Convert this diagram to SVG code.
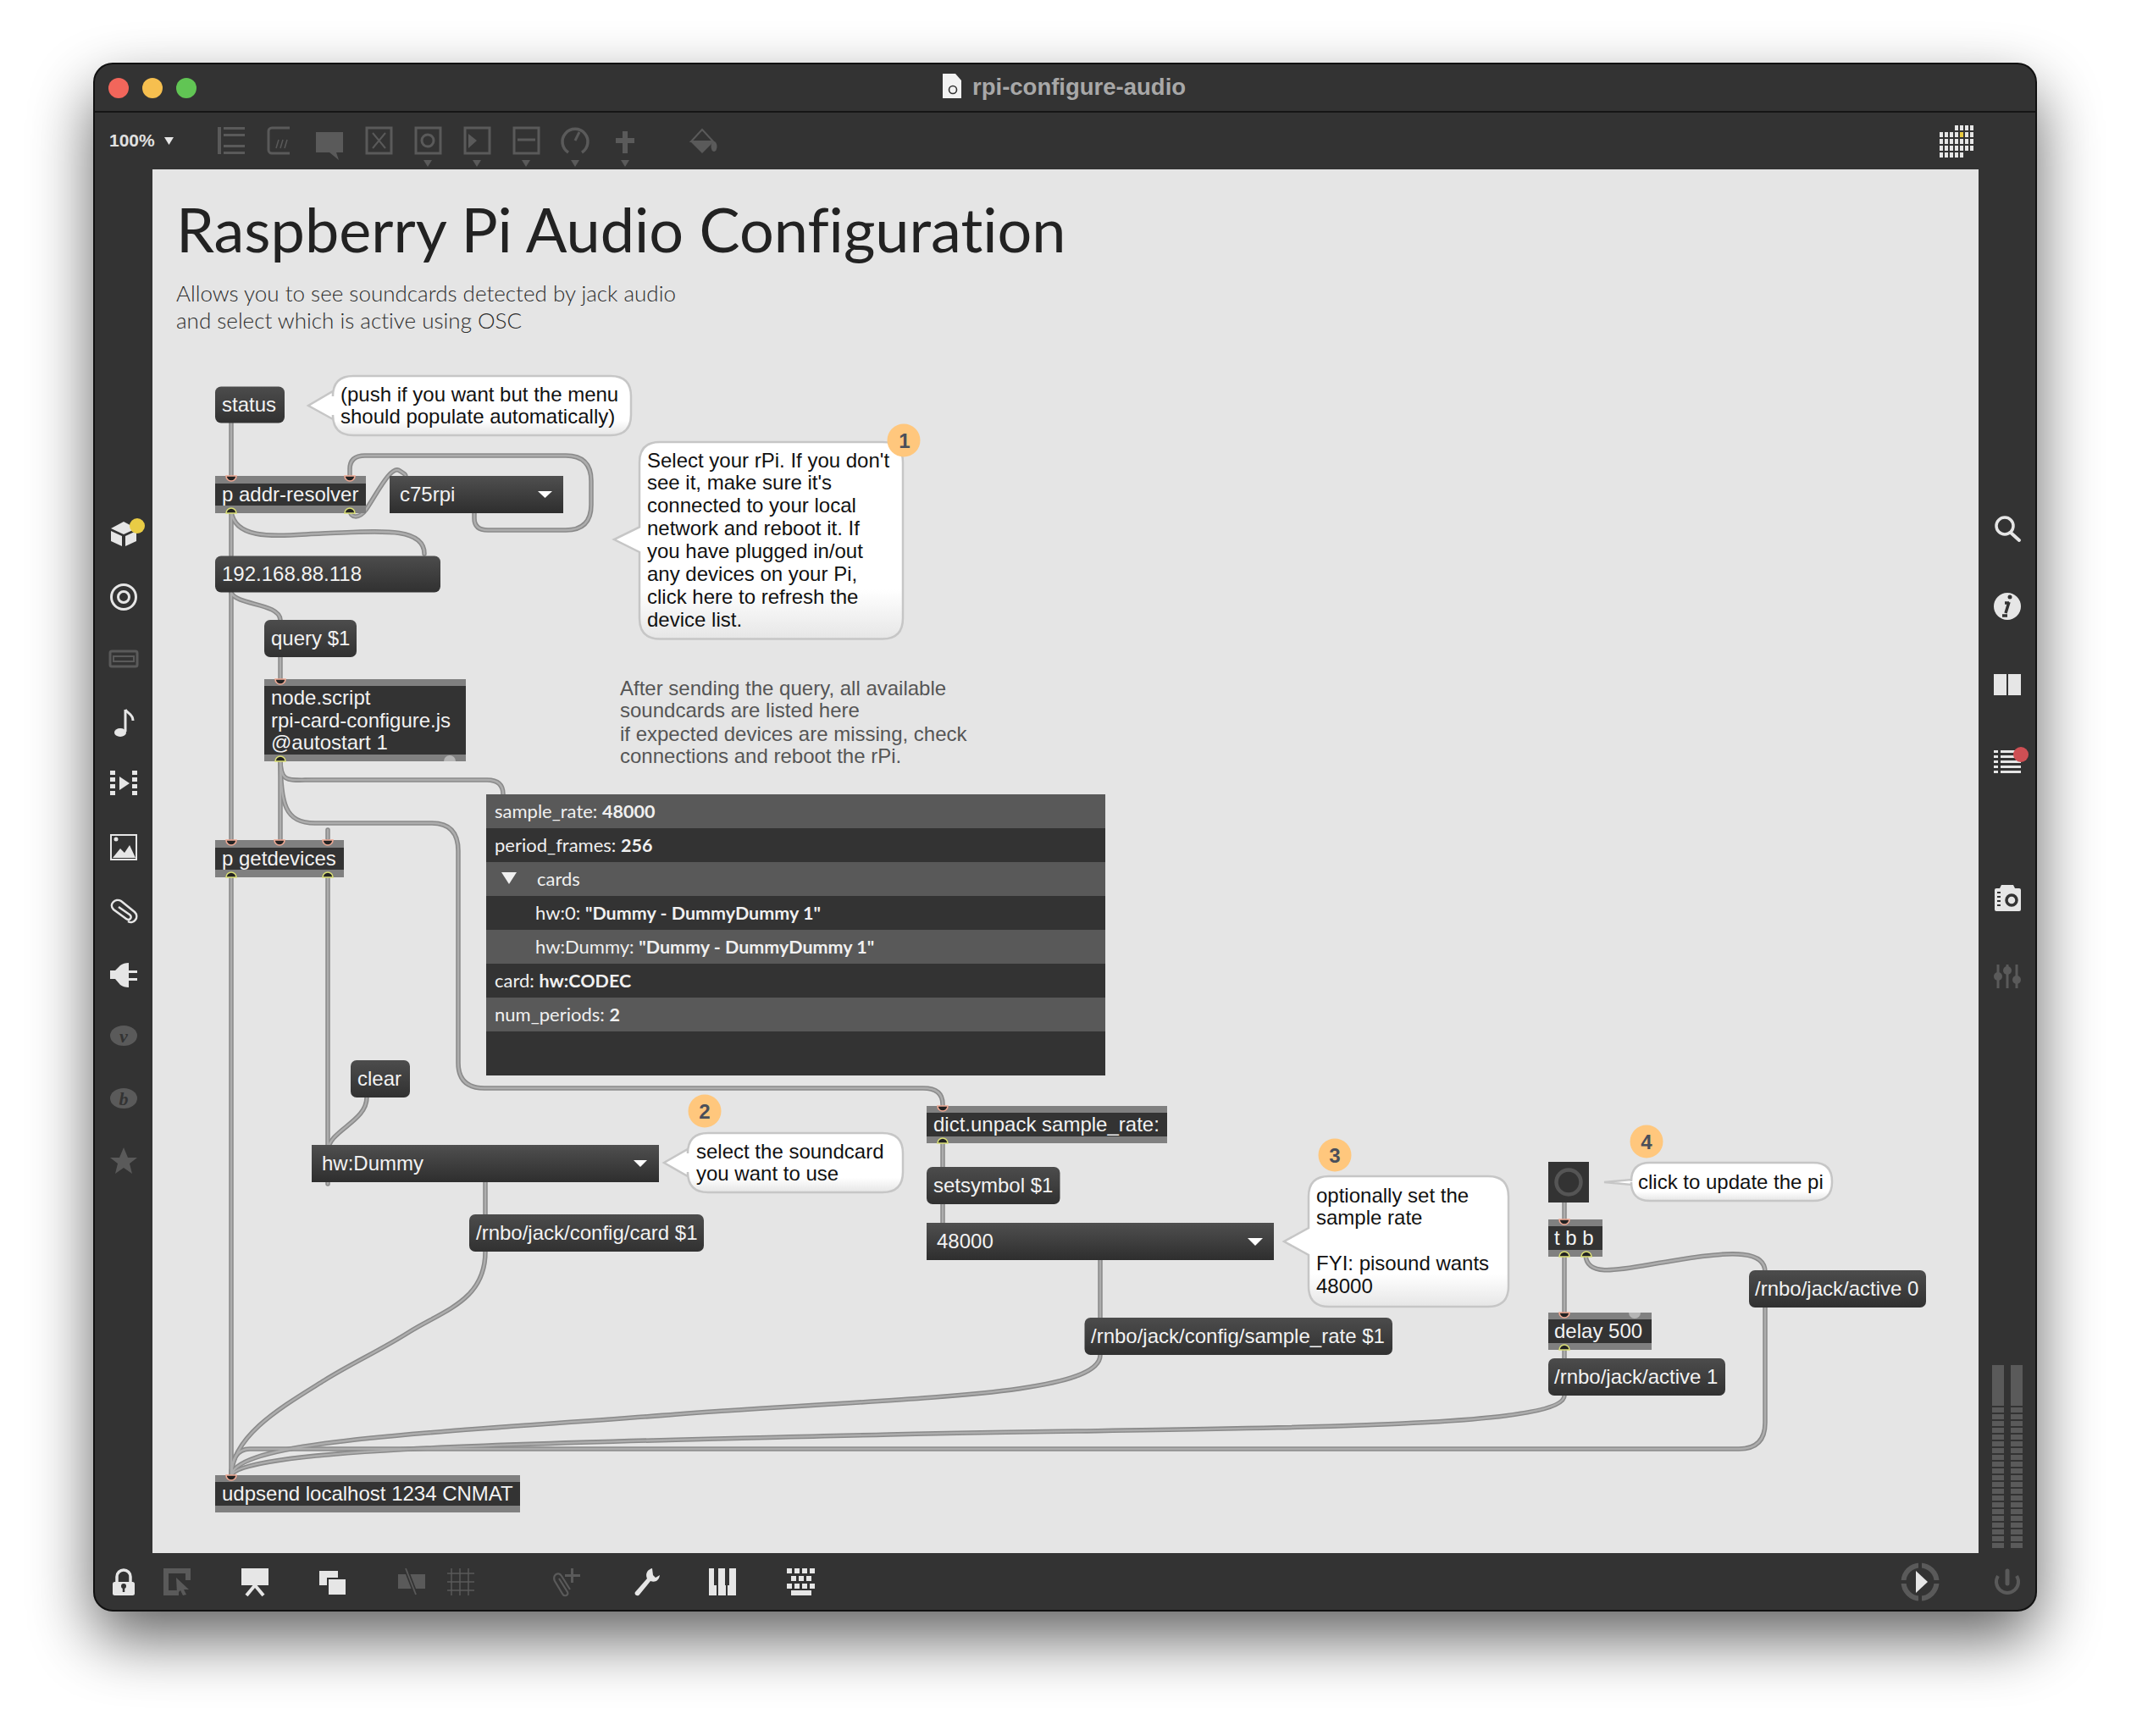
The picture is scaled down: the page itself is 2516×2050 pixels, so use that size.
<svg xmlns="http://www.w3.org/2000/svg" width="2516" height="2050" viewBox="0 0 2516 2050">
<style>
text{font-family:"Liberation Sans",Arial,sans-serif;font-size:24px}
.t{fill:#f2f2f2}
.b{fill:#111}
.obj{fill:#333}
.bar{fill:#808080}
.msg{fill:url(#mg)}
.menu{fill:url(#ug)}
.bub{fill:url(#bg);stroke:#c6c6c6;stroke-width:2.5}
.num{fill:#ffc77d}
.numt{font-weight:bold;fill:#4a4f5a;text-anchor:middle}
.dt{font-family:Lato,"Liberation Sans",sans-serif;font-size:22px;fill:#f0f0f0}
.dt tspan{font-weight:bold;font-size:21.500px}
.rd{fill:#595959}.rl{fill:#333}
.ic{fill:#e6e6e6}.icd{fill:#5a5a5a}
.ics{fill:none;stroke:#e6e6e6}.icds{fill:none;stroke:#5a5a5a}
.wo{fill:none;stroke:#8a8a8a;stroke-width:5.500;stroke-linecap:round}
.wi{fill:none;stroke:#adadad;stroke-width:2.400;stroke-linecap:round}
.lato{font-family:Lato,"Liberation Sans",sans-serif;font-variant-ligatures:none}
</style>
<defs>
<linearGradient id="mg" x1="0" y1="0" x2="0" y2="1"><stop offset="0" stop-color="#4c4c4c"/><stop offset="1" stop-color="#313131"/></linearGradient>
<linearGradient id="ug" x1="0" y1="0" x2="0" y2="1"><stop offset="0" stop-color="#4f4f4f"/><stop offset="1" stop-color="#2e2e2e"/></linearGradient>
<linearGradient id="bg" x1="0" y1="0" x2="0" y2="1"><stop offset="0" stop-color="#fff"/><stop offset=".75" stop-color="#fff"/><stop offset="1" stop-color="#e6e6e6"/></linearGradient>
<filter id="sh" x="-20%" y="-20%" width="140%" height="140%"><feGaussianBlur stdDeviation="38"/></filter>
<path id="in" d="M-6 0A6 6 0 0 0 6 0Z" fill="#222" stroke="#eea893" stroke-width="1.600"/>
<path id="out" d="M-6 0A6 6 0 0 1 6 0Z" fill="#222" stroke="#d9de74" stroke-width="1.600"/>
</defs>
<rect width="2516" height="2050" fill="#fff"/>
<rect x="111" y="108" width="2293" height="1826" rx="24" fill="#000" opacity=".62" filter="url(#sh)"/>
<g id="window">
<rect x="111" y="75" width="2293" height="1827" rx="22" fill="#333" stroke="#111" stroke-width="2"/>
<line x1="112" y1="132" x2="2403" y2="132" stroke="#161616" stroke-width="2"/>
<circle cx="140" cy="104" r="12" fill="#f2665b"/><circle cx="180" cy="104" r="12" fill="#f6bf4f"/><circle cx="220" cy="104" r="12" fill="#61c554"/>
<path d="M1113 87h15l7 8v21h-22z" fill="#f2f2f2"/><circle cx="1125" cy="106" r="4.500" fill="none" stroke="#333" stroke-width="1.600"/>
<text x="1148" y="112" font-weight="bold" fill="#a8a8a8" style="font-size:27.500px">rpi-configure-audio</text>
<text x="129" y="173" font-weight="bold" fill="#e0e0e0" style="font-size:21px">100%</text>
<path d="M194 162h11l-5.500 9z" class="ic"/>
</g>
<g id="toolbar">
<path d="M257 150h4v32h-4zM264 150h25v3h-25zM264 158h25v3h-25zM264 171h25v3h-25zM264 179h25v3h-25z" class="icd"/>
<path d="M342 151h-21a4 4 0 0 0-4 4v22a4 4 0 0 0 4 4h21" class="icds" stroke-width="3"/><path d="M326 175l3-10M331 175l3-10M336 175l3-10" class="icds" stroke-width="1.500"/>
<path d="M373 156h32v24h-8l3 9-11-9h-16z" class="icd"/>
<rect x="433" y="151" width="29" height="30" class="icds" stroke-width="3"/><path d="M440 157l15 18M455 157l-15 18" class="icds" stroke-width="2"/>
<rect x="491" y="151" width="29" height="30" class="icds" stroke-width="3"/><circle cx="505" cy="166" r="7" class="icds" stroke-width="3"/>
<rect x="549" y="151" width="29" height="30" class="icds" stroke-width="3"/><path d="M553 158l10 8-10 9z" class="icd"/>
<rect x="607" y="151" width="29" height="30" class="icds" stroke-width="3"/><path d="M611 165h21" class="icds" stroke-width="3"/>
<path d="M671 180a15 15 0 1 1 16 0" class="icds" stroke-width="3.500"/><path d="M679 166l5-10" class="icds" stroke-width="3"/>
<path d="M735 155h6v8h8v6h-8v12h-6v-12h-8v-6h8z" class="icd"/>
<path d="M829 153l-13 14h26z" class="icds" stroke-width="2"/><path d="M815 167h28l-14 14z" class="icd"/><ellipse cx="843" cy="173" rx="3.500" ry="6" class="icd"/>
<path d="M500 189h10l-5 8zM558 189h10l-5 8zM616 189h10l-5 8zM674 189h10l-5 8zM733 189h10l-5 8z" class="icd"/>
<g class="ic">
<path d="M2308 148h4v6h-4zM2314 148h4v6h-4zM2320 148h4v6h-4zM2326 148h4v6h-4z"/>
<path d="M2290 156h4v6h-4zM2296 156h4v6h-4zM2302 156h4v6h-4zM2308 156h4v6h-4zM2320 156h4v6h-4zM2326 156h4v6h-4z"/>
<path d="M2290 164h4v6h-4zM2296 164h4v6h-4zM2302 164h4v6h-4zM2308 164h4v6h-4zM2314 164h4v6h-4zM2320 164h4v6h-4zM2326 164h4v6h-4z"/>
<path d="M2290 172h4v6h-4zM2296 172h4v6h-4zM2302 172h4v6h-4zM2308 172h4v6h-4zM2314 172h4v6h-4zM2320 172h4v6h-4zM2326 172h4v6h-4z"/>
<path d="M2290 180h4v6h-4zM2296 180h4v6h-4zM2302 180h4v6h-4zM2308 180h4v6h-4zM2314 180h4v6h-4z"/>
</g><rect x="2314" y="156" width="4" height="6" fill="#e8c93f"/>
</g>
<g id="left-sidebar">
<path d="M131 624l15-8 15 8-15 7zM131 627l13 6v12l-13-6zM148 633l13-6v12l-13 6z" class="ic"/><ellipse cx="162" cy="621" rx="9" ry="9" fill="#e9cc45"/>
<ellipse cx="146" cy="705" rx="14.500" ry="14.500" class="ics" stroke-width="3"/><ellipse cx="146" cy="705" rx="6.500" ry="6.500" class="ics" stroke-width="3"/>
<path d="M132 769h28q2 0 2 2v14q0 2-2 2h-28q-2 0-2-2v-14q0-2 2-2z" class="icds" stroke-width="3"/><path d="M134 775h24v6h-24z" class="icds" stroke-width="2"/>
<path d="M148 838v26" class="ics" stroke-width="3"/><ellipse cx="142" cy="865" rx="7" ry="5" class="ic"/><path d="M148 838c3 5 9 5 9 13" class="ics" stroke-width="3"/>
<path d="M130 910h6v5h-6zM130 918h6v5h-6zM130 926h6v5h-6zM130 934h6v5h-6zM156 910h6v5h-6zM156 918h6v5h-6zM156 926h6v5h-6zM156 934h6v5h-6zM141 917l12 8-12 8z" class="ic"/>
<rect x="131" y="986" width="30" height="29" class="ics" stroke-width="2"/><path d="M133 1013l9-11 5 5 6-9 7 15z" class="ic"/><circle cx="137" cy="991" r="2.500" class="ic"/>
<path d="M140 1071L153 1080C157 1083 153 1088 149 1085L134 1074C128 1068 136 1060 143 1064L159 1077C165 1083 158 1092 151 1088" class="ics" stroke-width="2.500"/>
<path d="M130 1146h6l6-6q4-3 10-3v9h10v3h-10v6h10v3h-10v8q-6 0-10-3l-6-7h-6z" class="ic"/>
<ellipse cx="146" cy="1223" rx="16" ry="12" class="icd"/><text x="146" y="1231" text-anchor="middle" fill="#333" style="font-family:'Liberation Serif',serif;font-size:22px;font-weight:bold;font-style:italic">v</text>
<ellipse cx="146" cy="1297" rx="16" ry="12" class="icd"/><text x="146" y="1305" text-anchor="middle" fill="#333" style="font-family:'Liberation Serif',serif;font-size:22px;font-weight:bold;font-style:italic">b</text>
<path d="M146 1355l5 12h11l-9 7 3 12-10-7-10 7 3-12-9-7h11z" class="icd"/>
</g>
<g id="right-sidebar">
<circle cx="2367" cy="621" r="10" class="ics" stroke-width="3.500"/><path d="M2374 629l10 9" class="ics" stroke-width="4" stroke-linecap="round"/>
<ellipse cx="2370" cy="716" rx="16" ry="16" class="ic"/><path d="M2372 711l-4 13M2367 712h5M2364 727h6" stroke="#333" stroke-width="3.500" fill="none"/><circle cx="2373" cy="705" r="2.500" fill="#333"/>
<rect x="2354" y="796" width="15" height="25" class="ic"/><rect x="2371" y="796" width="15" height="25" class="ic"/>
<path d="M2354 886h5v3h-5zM2354 892h5v3h-5zM2354 898h5v3h-5zM2354 904h5v3h-5zM2354 910h5v3h-5zM2362 886h24v3h-24zM2362 892h24v3h-24zM2362 898h24v3h-24zM2362 904h24v3h-24zM2362 910h24v3h-24z" class="ic"/><circle cx="2386" cy="891" r="9" fill="#ce4f54"/>
<path d="M2357 1049h4l2-4h14l2 4h5q2 0 2 2v23q0 2-2 2h-27q-2 0-2-2v-23q0-2 2-2z" class="ic"/><circle cx="2375" cy="1063" r="6" fill="none" stroke="#333" stroke-width="3.500"/><path d="M2358 1054h4M2358 1059h4M2358 1064h4M2358 1069h4" stroke="#333" stroke-width="2"/>
<path d="M2359 1139v28M2370 1139v28M2381 1139v28" class="icds" stroke-width="3"/><circle cx="2359" cy="1153" r="5" class="icd"/><circle cx="2370" cy="1146" r="5" class="icd"/><circle cx="2381" cy="1157" r="5" class="icd"/>
</g>
<g id="bottom-bar">
<path d="M138 1868v-6a8 8 0 0 1 16 0v6" class="ics" stroke-width="3.500"/><rect x="133" y="1868" width="26" height="16" rx="2.500" class="ic"/><circle cx="146" cy="1873" r="3" fill="#333"/><path d="M146 1873v7" stroke="#333" stroke-width="2.500"/>
<path d="M193 1852h32v14h-6v-8h-20v20h12v6h-18z" class="icd"/><path d="M208 1863l15 14-6 0 3 6-4 1-3-6-4 4z" class="icd"/>
<rect x="285" y="1852" width="32" height="20" class="ic"/><path d="M301 1872l-10 12M301 1872l10 12" class="ics" stroke-width="4"/>
<rect x="377" y="1855" width="22" height="17" class="ic"/><rect x="387" y="1864" width="22" height="20" class="ic" stroke="#333" stroke-width="2"/>
<rect x="470" y="1859" width="32" height="17" class="icd"/><path d="M479 1852l12 31" stroke="#333" stroke-width="5"/><path d="M479 1852l12 31" stroke="#5a5a5a" stroke-width="1.800"/>
<path d="M533 1852v32M543 1852v32M553 1852v32M528 1858h32M528 1868h32M528 1878h32" class="icds" stroke-width="1.500"/>
<path d="M660 1864L670 1880C672 1884 666 1886 664 1882L655 1867C652 1860 659 1855 663 1861L673 1877" class="icds" stroke-width="2.200"/><path d="M674 1852h3v7h8v3h-8v7h-3v-7h-7v-3h7z" class="icd"/>
<path d="M770 1852c-7 2-8 8-6 12l-14 16c-2 3 3 6 5 3l13-16c5 2 10 0 11-7l-5 3-3-3z" class="ic"/>
<rect x="837" y="1852" width="9" height="32" class="ic"/><rect x="848" y="1852" width="9" height="32" class="ic"/><rect x="859" y="1852" width="10" height="32" class="ic"/><rect x="843" y="1852" width="5" height="20" fill="#333"/><rect x="856" y="1852" width="5" height="20" fill="#333"/>
<path d="M929 1852h6v6h-6zM938 1852h6v6h-6zM947 1852h6v6h-6zM956 1852h6v6h-6zM934 1861h6v6h-6zM943 1861h6v6h-6zM952 1861h6v6h-6zM929 1870h6v6h-6zM938 1870h6v6h-6zM947 1870h6v6h-6zM956 1870h6v6h-6zM934 1878h24v6h-24z" class="ic"/>
<circle cx="2267" cy="1868" r="19.500" class="icds" stroke-width="6"/><path d="M2265 1845h4v46h-4zM2244 1866h46v4h-46z" fill="#333"/><path d="M2262 1855l14 13-14 13z" class="ic"/>
<path d="M2359 1861a13 13 0 1 0 22 0" class="icds" stroke-width="4"/><path d="M2370 1855v15" class="icds" stroke-width="5" stroke-linecap="round"/>
<rect x="2352" y="1612" width="14" height="48" class="icd"/><rect x="2374" y="1612" width="14" height="48" class="icd"/>
<path d="M2352 1662h14v6h-14zM2352 1670h14v6h-14zM2352 1678h14v6h-14zM2352 1686h14v6h-14zM2352 1694h14v6h-14zM2352 1702h14v6h-14zM2352 1710h14v6h-14zM2352 1718h14v6h-14zM2352 1726h14v6h-14zM2352 1734h14v6h-14zM2352 1742h14v6h-14zM2352 1750h14v6h-14zM2352 1758h14v6h-14zM2352 1766h14v6h-14zM2352 1774h14v6h-14zM2352 1782h14v6h-14zM2352 1790h14v6h-14zM2352 1798h14v6h-14zM2352 1806h14v6h-14zM2352 1814h14v6h-14zM2352 1822h14v6h-14z" class="icd"/>
<path d="M2374 1662h14v6h-14zM2374 1670h14v6h-14zM2374 1678h14v6h-14zM2374 1686h14v6h-14zM2374 1694h14v6h-14zM2374 1702h14v6h-14zM2374 1710h14v6h-14zM2374 1718h14v6h-14zM2374 1726h14v6h-14zM2374 1734h14v6h-14zM2374 1742h14v6h-14zM2374 1750h14v6h-14zM2374 1758h14v6h-14zM2374 1766h14v6h-14zM2374 1774h14v6h-14zM2374 1782h14v6h-14zM2374 1790h14v6h-14zM2374 1798h14v6h-14zM2374 1806h14v6h-14zM2374 1814h14v6h-14zM2374 1822h14v6h-14z" class="icd"/>
</g>
<rect id="canvas" x="180" y="200" width="2156" height="1634" fill="#e5e5e5"/>
<g id="heading">
<text x="208" y="298" fill="#222" class="lato" style="font-size:72px">Raspberry Pi Audio Configuration</text>
<text x="208" y="356" fill="#2c2c2c" class="lato" style="font-size:26px;font-weight:300">Allows you to see soundcards detected by jack audio</text>
<text x="208" y="388" fill="#2c2c2c" class="lato" style="font-size:26px;font-weight:300">and select which is active using OSC</text>
</g>
<g id="connectors">
<g class="wo"><g id="wires">
<path d="M273 499V566"/>
<path d="M413 602C413 612 424 613 432 602C445 583 462 548 472 556C478 560 479 560 479 563"/>
<path d="M560 606V612Q560 626 576 626H668Q698 626 698 596V568Q698 538 668 538H431Q413 538 413 554V566"/>
<path d="M273 606V656"/>
<path d="M273 604C278 640 330 632 380 630C440 628 501 620 501 654"/>
<path d="M273 700V996"/>
<path d="M273 700C280 715 330 712 331 732"/>
<path d="M331 776V805"/>
<path d="M331 897V995"/>
<path d="M331 897C331 925 340 921 370 921H575Q594 921 594 938"/>
<path d="M331 897C332 950 336 972 372 972H510Q541 972 541 1005V1255Q541 1285 572 1285H1090Q1113 1285 1113 1304V1310"/>
<path d="M387 980V990"/>
<path d="M273 1034V1746"/>
<path d="M387 1034V1398"/>
<path d="M433 1296C433 1325 387 1335 387 1360"/>
<path d="M573 1396V1434"/>
<path d="M573 1478C573 1535 525 1547 483 1573C450 1594 415 1610 383 1630C335 1660 273 1695 273 1744"/>
<path d="M1299 1488V1556"/>
<path d="M1299 1600C1299 1650 1060 1650 800 1670C520 1692 273 1700 273 1744"/>
<path d="M1847 1648C1847 1690 1450 1685 1050 1694C700 1703 273 1708 273 1744"/>
<path d="M2084 1544V1680Q2084 1711 2053 1711H295Q273 1711 273 1744"/>
<path d="M1847 1420V1444"/>
<path d="M1847 1484V1552"/>
<path d="M1872 1482C1874 1512 1920 1497 1980 1488C2050 1476 2084 1478 2084 1502"/>
<path d="M1847 1594V1606"/>
<path d="M1113 1348V1378"/>
<path d="M1113 1422V1444"/>
</g></g>
<use href="#wires" class="wi"/>
</g>
<g id="n-status"><rect x="254" y="456.500" width="82" height="43" rx="7" class="msg"/><text x="262" y="486" class="t">status</text></g>
<g id="n-bubble-push"><path class="bub" d="M417 444H721Q745 444 745 468V490Q745 514 721 514H417Q393 514 393 490V495L364 479L393 462V468Q393 444 417 444Z"/><text x="402" y="474" class="b">(push if you want but the menu</text><text x="402" y="500" class="b">should populate automatically)</text></g>
<g id="n-addr-resolver"><rect x="254" y="562" width="178" height="44" class="bar"/><rect x="254" y="571" width="178" height="26" class="obj"/><text x="262" y="592" class="t">p addr-resolver</text><use href="#in" x="273" y="562"/><use href="#in" x="413" y="562"/><use href="#out" x="273" y="606"/><use href="#out" x="413" y="606"/></g>
<g id="n-c75rpi"><rect x="460" y="562" width="205" height="44" class="menu"/><text x="472" y="592" class="t">c75rpi</text><path d="M635 580h17l-8.500 8z" fill="#fff"/></g>
<g id="n-bubble-1"><path class="bub" d="M779 522H1042Q1066 522 1066 546V730Q1066 754.500 1042 754.500H779Q755 754.500 755 730V652L725 637L755 622.500V546Q755 522 779 522Z"/><text x="764" y="552" class="b">Select your rPi. If you don't</text><text x="764" y="578" class="b">see it, make sure it's</text><text x="764" y="605" class="b">connected to your local</text><text x="764" y="632" class="b">network and reboot it. If</text><text x="764" y="659" class="b">you have plugged in/out</text><text x="764" y="686" class="b">any devices on your Pi,</text><text x="764" y="713" class="b">click here to refresh the</text><text x="764" y="740" class="b">device list.</text></g>
<g id="n-num-1"><circle cx="1067" cy="520" r="19.500" class="num"/><text x="1068" y="529" class="numt">1</text></g>
<g id="n-ip"><rect x="254" y="656.500" width="266" height="43" rx="7" class="msg"/><text x="262" y="686" class="t">192.168.88.118</text></g>
<g id="n-query"><rect x="312" y="732" width="109" height="44" rx="7" class="msg"/><text x="320" y="762" class="t">query $1</text></g>
<g id="n-node-script"><rect x="312" y="802" width="238" height="97" class="bar"/><rect x="312" y="810" width="238" height="81" class="obj"/><text x="320" y="832" class="t">node.script</text><text x="320" y="859" class="t">rpi-card-configure.js</text><text x="320" y="885" class="t">@autostart 1</text><use href="#in" x="331" y="802"/><use href="#out" x="331" y="899"/><path d="M524 899A7 7 0 0 1 538 899Z" fill="#b5b5b5"/></g>
<g id="n-note-after"><text x="732" y="820.500" fill="#555">After sending the query, all available</text><text x="732" y="846.500" fill="#555">soundcards are listed here</text><text x="732" y="874.500" fill="#555">if expected devices are missing, check</text><text x="732" y="900.500" fill="#555">connections and reboot the rPi.</text></g>
<g id="n-dict-view"><rect x="574" y="938" width="731" height="332" class="rl"/><rect x="574" y="938" width="731" height="40" class="rd"/><rect x="574" y="1018" width="731" height="40" class="rd"/><rect x="574" y="1098" width="731" height="40" class="rd"/><rect x="574" y="1178" width="731" height="40" class="rd"/>
<text x="584" y="966" class="dt">sample_rate: <tspan>48000</tspan></text>
<text x="584" y="1006" class="dt">period_frames: <tspan>256</tspan></text>
<path d="M592 1030h18l-9 14z" fill="#f0f0f0"/><text x="634" y="1046" class="dt">cards</text>
<text x="632" y="1086" class="dt">hw:0: <tspan>"Dummy - DummyDummy 1"</tspan></text>
<text x="632" y="1126" class="dt">hw:Dummy: <tspan>"Dummy - DummyDummy 1"</tspan></text>
<text x="584" y="1166" class="dt">card: <tspan>hw:CODEC</tspan></text>
<text x="584" y="1206" class="dt">num_periods: <tspan>2</tspan></text></g>
<g id="n-getdevices"><rect x="254" y="992" width="152" height="44" class="bar"/><rect x="254" y="1001" width="152" height="26" class="obj"/><text x="262" y="1022" class="t">p getdevices</text><use href="#in" x="273" y="992"/><use href="#in" x="330" y="992"/><use href="#in" x="387" y="992"/><use href="#out" x="273" y="1036"/><use href="#out" x="387" y="1036"/></g>
<g id="n-clear"><rect x="414" y="1252" width="70" height="44" rx="7" class="msg"/><text x="422" y="1282" class="t">clear</text></g>
<g id="n-hw"><rect x="368" y="1352" width="410" height="44" class="menu"/><text x="380" y="1382" class="t">hw:Dummy</text><path d="M748 1370h16l-8 8z" fill="#fff"/></g>
<g id="n-bubble-2"><path class="bub" d="M836 1338H1042Q1066 1338 1066 1362V1384Q1066 1408 1042 1408H836Q812 1408 812 1384V1389L784 1373L812 1357V1362Q812 1338 836 1338Z"/><text x="822" y="1368" class="b">select the soundcard</text><text x="822" y="1394" class="b">you want to use</text></g>
<g id="n-num-2"><circle cx="832" cy="1312" r="19.500" class="num"/><text x="832" y="1321" class="numt">2</text></g>
<g id="n-card"><rect x="554" y="1434" width="277" height="44" rx="7" class="msg"/><text x="562" y="1464" class="t">/rnbo/jack/config/card $1</text></g>
<g id="n-dict-unpack"><rect x="1094" y="1306" width="284" height="44" class="bar"/><rect x="1094" y="1314" width="284" height="28" class="obj"/><text x="1102" y="1336" class="t">dict.unpack sample_rate:</text><use href="#in" x="1113" y="1306"/><use href="#out" x="1113" y="1350"/></g>
<g id="n-setsymbol"><rect x="1094" y="1378" width="157.500" height="44" rx="7" class="msg"/><text x="1102" y="1408" class="t">setsymbol $1</text></g>
<g id="n-48000"><rect x="1094" y="1444" width="410" height="44" class="menu"/><text x="1106" y="1474" class="t">48000</text><path d="M1473 1462h18l-9 9z" fill="#fff"/></g>
<g id="n-bubble-3"><path class="bub" d="M1569 1389H1757Q1781 1389 1781 1413V1519Q1781 1543 1757 1543H1569Q1545 1543 1545 1519V1482L1516 1466L1545 1450V1413Q1545 1389 1569 1389Z"/><text x="1554" y="1420" class="b">optionally set the</text><text x="1554" y="1446" class="b">sample rate</text><text x="1554" y="1500" class="b">FYI: pisound wants</text><text x="1554" y="1527" class="b">48000</text></g>
<g id="n-num-3"><circle cx="1576" cy="1364" r="19.500" class="num"/><text x="1576" y="1373" class="numt">3</text></g>
<g id="n-sample-rate"><rect x="1280.500" y="1556" width="363.500" height="44" rx="7" class="msg"/><text x="1288" y="1586" class="t">/rnbo/jack/config/sample_rate $1</text></g>
<g id="n-button"><rect x="1828" y="1372" width="48" height="48" fill="#333"/><circle cx="1852" cy="1396" r="14.500" fill="none" stroke="#555" stroke-width="4.500"/></g>
<g id="n-bubble-4"><path class="bub" d="M1948 1373H2141Q2163 1373 2163 1395V1396Q2163 1418 2141 1418H1948Q1926 1418 1926 1396V1399L1894 1396L1926 1393V1395Q1926 1373 1948 1373Z"/><text x="1934" y="1404" class="b">click to update the pi</text></g>
<g id="n-num-4"><circle cx="1944" cy="1348" r="19.500" class="num"/><text x="1944" y="1357" class="numt">4</text></g>
<g id="n-tbb"><rect x="1828" y="1440" width="64" height="44" class="bar"/><rect x="1828" y="1448" width="64" height="28" class="obj"/><text x="1835" y="1470" class="t">t b b</text><use href="#in" x="1847" y="1440"/><use href="#out" x="1847" y="1484"/><use href="#out" x="1873" y="1484"/></g>
<g id="n-active-0"><rect x="2065" y="1500" width="209" height="44" rx="7" class="msg"/><text x="2072" y="1530" class="t">/rnbo/jack/active 0</text></g>
<g id="n-delay"><rect x="1828" y="1550" width="122" height="44" class="bar"/><rect x="1828" y="1558" width="122" height="28" class="obj"/><text x="1835" y="1580" class="t">delay 500</text><use href="#in" x="1847" y="1550"/><use href="#out" x="1847" y="1594"/><path d="M1923 1550A7 7 0 0 0 1937 1550Z" fill="#b5b5b5"/></g>
<g id="n-active-1"><rect x="1828" y="1604" width="209" height="44" rx="7" class="msg"/><text x="1835" y="1634" class="t">/rnbo/jack/active 1</text></g>
<g id="n-udpsend"><rect x="254" y="1742" width="360" height="44" class="bar"/><rect x="254" y="1750" width="360" height="28" class="obj"/><text x="262" y="1772" class="t">udpsend localhost 1234 CNMAT</text><use href="#in" x="273" y="1742"/></g>
</svg>
